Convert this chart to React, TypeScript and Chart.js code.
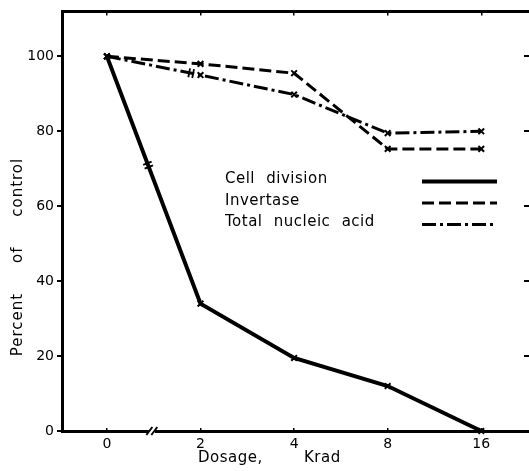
import React, { useEffect, useRef } from "react";
import { Chart, registerables } from "chart.js";

Chart.register(...registerables);

const DOSE_LABELS = ["0", "2", "4", "8", "16"];
const DOSE_POS = [0, 1, 2, 3, 4];
const CELL_DIVISION = [100, 34, 19.5, 12, 0];
const INVERTASE = [100, 98, 95.5, 75.3, 75.3];
const TOTAL_NUCLEIC_ACID = [100, 95, 89.8, 79.5, 80];
const PERCENT_TICKS = [0, 20, 40, 60, 80, 100];
const RIGHT_TICKS = [20, 40, 60, 80, 100];
const SERIES_LABELS = ["Cell division", "Invertase", "Total nucleic acid"];
const X_TITLE = "Dosage, Krad";
const Y_TITLE = "Percent of control";

const FONT = "'DejaVu Sans', sans-serif";
const X_MIN = -0.48;
const X_MAX = 4.51;

function pts(vals: number[]) {
  return DOSE_POS.map((x, i) => ({ x, y: vals[i] }));
}

function drawBreak(ctx: any, x: number, y: number, angle: number, len: number, gap: number) {
  const px = Math.cos(angle + Math.PI / 2), py = Math.sin(angle + Math.PI / 2);
  const dx = Math.cos(angle), dy = Math.sin(angle);
  for (const s of [-gap / 2, gap / 2]) {
    const cx = x + dx * s, cy = y + dy * s;
    ctx.beginPath();
    ctx.moveTo(cx - px * len / 2, cy - py * len / 2);
    ctx.lineTo(cx + px * len / 2, cy + py * len / 2);
    ctx.stroke();
  }
}

const decor = {
  id: "decor",
  afterDraw(chart: any) {
    const { ctx, chartArea: ca, scales } = chart;
    const xs = scales.x, ys = scales.y;
    ctx.save();
    ctx.strokeStyle = "#000";
    ctx.fillStyle = "#000";

    // axis break on the dosage axis
    const bx = xs.getPixelForValue(0.48), by = ca.bottom;
    ctx.fillStyle = "#fff";
    ctx.fillRect(bx - 3, by - 3, 6, 6);
    ctx.fillStyle = "#000";
    ctx.lineWidth = 2;
    for (const dx of [-2.5, 2.5]) {
      ctx.beginPath();
      ctx.moveTo(bx + dx - 3, by + 4);
      ctx.lineTo(bx + dx + 3, by - 4);
      ctx.stroke();
    }

    // break marks on the series lines (between first two doses)
    const breaks: [number, number][] = [[0, 0.44], [2, 0.9]];
    breaks.forEach(([di, xv]) => {
      const d = chart.data.datasets[di].data;
      const yv = d[0].y + (d[1].y - d[0].y) * xv;
      const x0 = xs.getPixelForValue(d[0].x), y0 = ys.getPixelForValue(d[0].y);
      const x1 = xs.getPixelForValue(d[1].x), y1 = ys.getPixelForValue(d[1].y);
      const ang = Math.atan2(y1 - y0, x1 - x0);
      ctx.lineWidth = 1.8;
      drawBreak(ctx, xs.getPixelForValue(xv), ys.getPixelForValue(yv), ang, 9, 4);
    });

    // legend
    ctx.font = `15px ${FONT}`;
    (ctx as any).letterSpacing = "0.5px";
    (ctx as any).wordSpacing = "6px";
    ctx.textBaseline = "middle";
    ctx.textAlign = "left";
    chart.data.datasets.forEach((ds: any, i: number) => {
      const ty = ca.top + 168 + i * 21.5;
      ctx.fillText(ds.label, ca.left + 163, ty);
      ctx.save();
      ctx.lineWidth = ds.borderWidth;
      ctx.setLineDash(ds.borderDash || []);
      ctx.beginPath();
      ctx.moveTo(ca.left + 360, ty + 2);
      ctx.lineTo(ca.left + 435, ty + 2);
      ctx.stroke();
      ctx.restore();
    });

    // axis titles
    ctx.textAlign = "left";
    (ctx as any).letterSpacing = "0.5px";
    (ctx as any).wordSpacing = "36px";
    ctx.fillText(X_TITLE, 198, 458);

    ctx.textAlign = "center";
    (ctx as any).letterSpacing = "1px";
    (ctx as any).wordSpacing = "24px";
    ctx.translate(18, 257);
    ctx.rotate(-Math.PI / 2);
    ctx.fillText(Y_TITLE, 0, 0);
    ctx.restore();
  },
};

export default function App() {
  const ref = useRef<HTMLCanvasElement | null>(null);

  useEffect(() => {
    if (!ref.current) return;
    const tickFont = { family: FONT, size: 14 };
    const chart = new Chart(ref.current, {
      type: "line",
      data: {
        datasets: [
          {
            label: SERIES_LABELS[0],
            data: pts(CELL_DIVISION),
            borderColor: "#000",
            borderWidth: 4,
            pointStyle: "crossRot",
            pointRadius: 4,
            pointBorderWidth: 2,
            pointBorderColor: "#000",
            pointBackgroundColor: "#000",
            tension: 0,
            fill: false,
            clip: 6,
          },
          {
            label: SERIES_LABELS[1],
            data: pts(INVERTASE),
            borderColor: "#000",
            borderWidth: 3,
            borderDash: [12, 5],
            pointStyle: "crossRot",
            pointRadius: 4,
            pointBorderWidth: 2,
            pointBorderColor: "#000",
            pointBackgroundColor: "#000",
            tension: 0,
            fill: false,
            clip: 6,
          },
          {
            label: SERIES_LABELS[2],
            data: pts(TOTAL_NUCLEIC_ACID),
            borderColor: "#000",
            borderWidth: 3,
            borderDash: [14, 4, 3, 4],
            pointStyle: "crossRot",
            pointRadius: 4,
            pointBorderWidth: 2,
            pointBorderColor: "#000",
            pointBackgroundColor: "#000",
            tension: 0,
            fill: false,
            clip: 6,
          },
        ],
      },
      options: {
        responsive: false,
        maintainAspectRatio: false,
        animation: false,
        layout: { padding: 0 },
        plugins: {
          legend: { display: false },
          tooltip: { enabled: false },
          title: { display: false },
        },
        scales: {
          x: {
            type: "linear",
            position: "bottom",
            min: X_MIN,
            max: X_MAX,
            afterBuildTicks: (s: any) => {
              s.ticks = DOSE_POS.map((v) => ({ value: v }));
            },
            afterFit: (s: any) => {
              s.height = 40;
            },
            ticks: {
              callback: (_v: any, i: number) => DOSE_LABELS[i],
              font: tickFont,
              color: "#000",
              padding: 8,
              maxRotation: 0,
              autoSkip: false,
            },
            grid: {
              display: true,
              drawOnChartArea: false,
              drawTicks: true,
              tickLength: -3,
              color: "#000",
              lineWidth: 1.5,
            },
            border: { display: true, color: "#000", width: 3 },
          },
          x2: {
            type: "linear",
            position: "top",
            min: X_MIN,
            max: X_MAX,
            afterBuildTicks: (s: any) => {
              s.ticks = DOSE_POS.map((v) => ({ value: v }));
            },
            afterFit: (s: any) => {
              s.height = 10;
            },
            ticks: { display: false },
            grid: {
              display: true,
              drawOnChartArea: false,
              drawTicks: true,
              tickLength: -4,
              color: "#000",
              lineWidth: 1.5,
            },
            border: { display: true, color: "#000", width: 3 },
          },
          y: {
            type: "linear",
            position: "left",
            min: 0,
            max: 112,
            afterBuildTicks: (s: any) => {
              s.ticks = PERCENT_TICKS.map((v) => ({ value: v }));
            },
            afterFit: (s: any) => {
              s.width = 62;
            },
            ticks: { font: tickFont, color: "#000", padding: 3 },
            grid: {
              display: true,
              drawOnChartArea: false,
              drawTicks: true,
              tickLength: 5,
              color: "#000",
              lineWidth: 2,
            },
            border: { display: true, color: "#000", width: 3 },
          },
          y2: {
            type: "linear",
            position: "right",
            min: 0,
            max: 112,
            afterBuildTicks: (s: any) => {
              s.ticks = RIGHT_TICKS.map((v) => ({ value: v }));
            },
            afterFit: (s: any) => {
              s.width = 0;
            },
            ticks: { display: false },
            grid: {
              display: true,
              drawOnChartArea: false,
              drawTicks: true,
              tickLength: -5,
              color: "#000",
              lineWidth: 2,
            },
            border: { display: false },
          },
        },
      },
      plugins: [decor],
    } as any);
    return () => chart.destroy();
  }, []);

  return (
    <div
      style={{
        position: "fixed",
        left: 0,
        top: 0,
        width: 529,
        height: 471,
        background: "#fff",
        overflow: "hidden",
      }}
    >
      <canvas ref={ref} width={535} height={471} style={{ width: 535, height: 471, display: "block" }} />
    </div>
  );
}
